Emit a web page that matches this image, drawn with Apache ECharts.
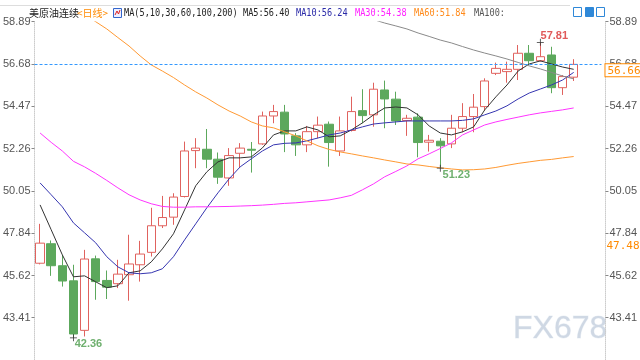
<!DOCTYPE html>
<html><head><meta charset="utf-8">
<script src="https://cdn.jsdelivr.net/npm/echarts@6/dist/echarts.min.js"></script>
<style>html,body{margin:0;padding:0;background:#fff}#c{width:640px;height:360px}</style>
</head><body><div id="c"></div>
<script>
const categories = ['1','2','3','4','5','6','7','8','9','10','11','12','13','14','15','16','17','18','19','20','21','22','23','24','25','26','27','28','29','30','31','32','33','34','35','36','37','38','39','40','41','42','43','44','45','46','47','48','49','50','51'];
const opens  = [46.26,47.28,46.13,45.34,42.75,46.49,45.36,45.19,45.66,46.18,46.83,48.22,48.67,49.75,52.15,52.22,51.70,50.72,52.01,52.22,52.50,53.96,54.16,52.92,52.45,53.14,53.53,52.13,53.20,54.24,54.02,55.32,54.84,53.72,53.90,52.59,52.64,52.50,53.32,53.93,54.45,56.19,56.28,56.40,57.24,56.85,57.15,55.44,55.99];
const closes = [47.31,46.13,45.33,42.56,46.48,45.30,45.01,45.69,46.22,46.74,48.22,48.65,49.72,52.13,52.28,51.70,50.76,51.89,52.28,52.17,53.96,54.19,53.02,52.45,53.14,53.48,52.57,53.18,54.19,53.98,55.36,54.85,53.70,53.84,52.57,52.69,52.40,53.32,53.93,54.42,55.79,56.45,56.40,57.24,56.85,57.06,55.44,56.02,56.66];
const lows   = [46.20,45.60,45.04,42.36,42.43,44.35,44.39,44.96,44.30,45.30,46.61,48.10,48.27,49.70,51.23,51.23,50.41,50.31,51.28,51.00,52.45,53.58,52.07,51.87,52.07,52.80,51.31,51.87,53.15,53.58,53.40,53.32,53.49,52.92,51.80,52.10,51.23,52.28,53.11,53.11,54.24,56.10,55.70,55.84,56.68,56.80,55.15,55.06,55.79];
const highs  = [48.32,47.45,46.70,46.18,46.96,46.66,45.88,46.44,47.75,47.43,49.16,49.78,49.92,52.62,52.80,53.28,52.05,52.28,52.54,52.60,54.19,54.54,54.54,53.06,53.44,53.93,53.67,53.93,54.97,55.36,55.70,55.81,55.23,54.02,54.10,52.97,52.80,54.02,54.63,55.11,55.93,56.75,56.80,57.67,57.67,57.81,57.58,56.10,56.93];
const ma5   = [49.31,48.01,46.70,45.55,45.60,45.29,44.98,45.08,45.76,45.86,46.33,47.01,47.80,49.05,50.31,51.04,51.56,51.77,51.77,51.82,52.29,52.97,53.18,53.18,53.39,53.23,52.87,52.92,53.23,53.60,54.02,54.38,54.43,54.38,54.02,53.44,53.07,52.97,53.13,53.39,54.28,54.96,55.58,56.31,56.68,56.84,56.68,56.52,56.40];
const ma10  = [50.46,49.84,49.21,48.37,47.85,47.33,46.60,46.07,45.76,45.71,45.76,45.97,46.60,47.48,48.32,49.16,49.94,50.67,51.30,51.72,52.13,52.45,52.53,52.55,52.66,52.81,52.97,53.07,53.23,53.39,53.54,53.60,53.65,53.70,53.70,53.70,53.70,53.70,53.73,53.81,54.02,54.22,54.49,54.85,55.16,55.37,55.58,55.84,56.24];
const ma30  = [53.07,52.58,52.13,51.59,51.30,50.96,50.59,50.20,49.84,49.57,49.37,49.23,49.19,49.19,49.21,49.21,49.22,49.23,49.25,49.27,49.30,49.34,49.39,49.42,49.47,49.52,49.57,49.68,49.81,50.10,50.41,50.78,51.06,51.35,51.72,51.98,52.26,52.55,52.97,53.23,53.49,53.65,53.78,53.90,54.02,54.12,54.20,54.28,54.38];
const ma60  = [60.96,60.55,60.18,59.76,59.29,58.89,58.51,58.06,57.62,57.10,56.63,56.31,55.97,55.58,55.22,54.90,54.54,54.22,53.96,53.65,53.44,53.34,53.13,52.92,52.66,52.40,52.21,52.08,51.98,51.87,51.77,51.66,51.56,51.45,51.40,51.32,51.25,51.19,51.14,51.15,51.19,51.27,51.38,51.48,51.56,51.64,51.69,51.77,51.84];
const ma100 = ['-','-','-','-','-','-','-','-','-','-','-','-','-','-','-','-','-','-','-','-','-','-','-','-','-','-','-','-',59.34,59.16,59.00,58.82,58.67,58.51,58.30,58.12,57.93,57.78,57.59,57.41,57.25,57.10,56.94,56.76,56.58,56.42,56.24,56.05,55.90];
const yTicks = [43.41,45.62,47.84,50.05,52.26,54.47,56.68,58.89];
const yMin = 41.20, yMax = 58.89;
const lastPrice = 56.66;
const sideValue = 47.48;
const lowMark = {idx:3, value:42.36};
const lowMark2 = {idx:36, value:51.23};
const highMark = {idx:45, value:57.81};

const candles = opens.map((o,i)=>[o, closes[i], lows[i], highs[i]]);
const chart = echarts.init(document.getElementById('c'), null, {renderer:'canvas'});
const crossPath = 'path://M0,4.5H9V5.5H0Z M4,0H5V10H4Z';
function yAxisCfg(pos){
  return {
    type:'value', position:pos, min:yMin, max:yMax, offset: pos==='right'?4:0,
    axisLine:{show:true, lineStyle:{color:'#cccccc', type:'dotted'}},
    axisTick:{show:true, customValues:yTicks, length:3, lineStyle:{color:'#888'}},
    axisLabel:{customValues:yTicks, formatter:v=>v.toFixed(2), color:'#555', fontSize:11, fontFamily:'Liberation Sans', margin:4},
    splitLine:{show:false}
  };
}
const maLine = (name, data, color) => ({
  name, type:'line', data, symbol:'none', smooth:false, clip:true, yAxisIndex:0,
  lineStyle:{color, width:1}, itemStyle:{color}, z:3
});
const monoFont = '11px "DejaVu Sans Mono"';
const legendText = (text, x, fill) => ({type:'text', x, y:13, scaleX:0.78, style:{text, x:0, y:0, font:monoFont, fill, verticalAlign:'middle'}});
chart.setOption({
  animation:false,
  grid:{left:27, right:36, top:21.7, bottom:0},
  xAxis:{type:'category', data:categories, boundaryGap:true, show:false},
  yAxis:[yAxisCfg('left'), yAxisCfg('right')],
  series:[
    {
      name:'美原油连续', type:'candlestick', data:candles, barWidth:9,
      itemStyle:{color:'#ffffff', color0:'#5ca85c', borderColor:'#e0625e', borderColor0:'#5ca85c', borderWidth:1},
      markLine:{
        symbol:['none','none'], silent:true, animation:false,
        data:[
          {yAxis:lastPrice, lineStyle:{color:'#3399ff', type:[3,2], width:1},
           label:{show:true, position:'end', formatter:lastPrice.toFixed(2), color:'#ff8a00', backgroundColor:'#fff', borderColor:'#ff8a00', borderWidth:1, padding:[1,3,0,2], fontFamily:'DejaVu Sans Mono', fontSize:11, distance:4, verticalAlign:'top'}},
          {yAxis:sideValue, lineStyle:{color:'rgba(255,255,255,0)', width:1},
           label:{show:true, position:'end', formatter:sideValue.toFixed(2), color:'#ff8a00', fontFamily:'DejaVu Sans Mono', fontSize:11, distance:5, verticalAlign:'top', padding:[1,0,0,0]}}
        ]
      },
      markPoint:{
        symbol:crossPath, symbolSize:7, itemStyle:{color:'#333'}, animation:false,
        label:{show:true, position:'inside', fontSize:11, fontWeight:'bold', fontFamily:'Liberation Sans', formatter:p=>p.value.toFixed(2)},
        data:[
          {coord:[categories[lowMark.idx], lowMark.value], value:lowMark.value, label:{offset:[15,6], color:'#6fb06f'}},
          {coord:[categories[lowMark2.idx], lowMark2.value], value:lowMark2.value, label:{offset:[16,7], color:'#6fb06f'}},
          {coord:[categories[highMark.idx], highMark.value], value:highMark.value, label:{offset:[14,-6], color:'#e05a5a'}}
        ]
      }
    },
    maLine('MA5', ma5, '#333333'),
    maLine('MA10', ma10, '#3535b0'),
    maLine('MA30', ma30, '#ff33ff'),
    maLine('MA60', ma60, '#ff9933'),
    maLine('MA100', ma100, '#8a8a8a')
  ],
  graphic:[
    {type:'line', shape:{x1:0,y1:5.5,x2:570,y2:5.5}, style:{stroke:'#dddddd', lineWidth:1}},
    {type:'text', x:29, y:13, style:{text:'美原油连续', font:'10px "Noto Sans CJK SC"', fill:'#222', verticalAlign:'middle'}},
    {type:'text', x:77, y:13, style:{text:'<日线>', font:'10px "Noto Sans CJK SC"', fill:'#ff8a00', verticalAlign:'middle'}},
    {type:'rect', shape:{x:113.5,y:8.5,width:8,height:9}, style:{fill:'#eef', stroke:'#3366cc', lineWidth:1}},
    {type:'polyline', shape:{points:[[115,15],[117,11],[118.5,14],[120,10]]}, style:{stroke:'#dd2222', fill:null, lineWidth:1}},
    legendText('MA(5,10,30,60,100,200)', 124, '#222'),
    legendText('MA5:56.40', 243, '#222'),
    legendText('MA10:56.24', 296, '#2a2aa8'),
    legendText('MA30:54.38', 355, '#ff22ff'),
    legendText('MA60:51.84', 414, '#ff8a1a'),
    legendText('MA100:', 474, '#555'),
    {type:'rect', shape:{x:573.5,y:7.5,width:8,height:9}, style:{fill:'#fff', stroke:'#2f88d8', lineWidth:1}},
    {type:'rect', shape:{x:585.5,y:7.5,width:8,height:9}, style:{fill:'#2f88d8', stroke:'#2f88d8', lineWidth:1}},
    {type:'rect', shape:{x:596.5,y:7.5,width:8,height:9}, style:{fill:'#fff', stroke:'#2f88d8', lineWidth:1}},
    {type:'text', x:513, y:329, style:{text:'FX678', font:'32px "Liberation Sans"', fill:'#cfd8e4', stroke:'#eef2f7', lineWidth:1, verticalAlign:'middle'}}
  ]
});
</script></body></html>
